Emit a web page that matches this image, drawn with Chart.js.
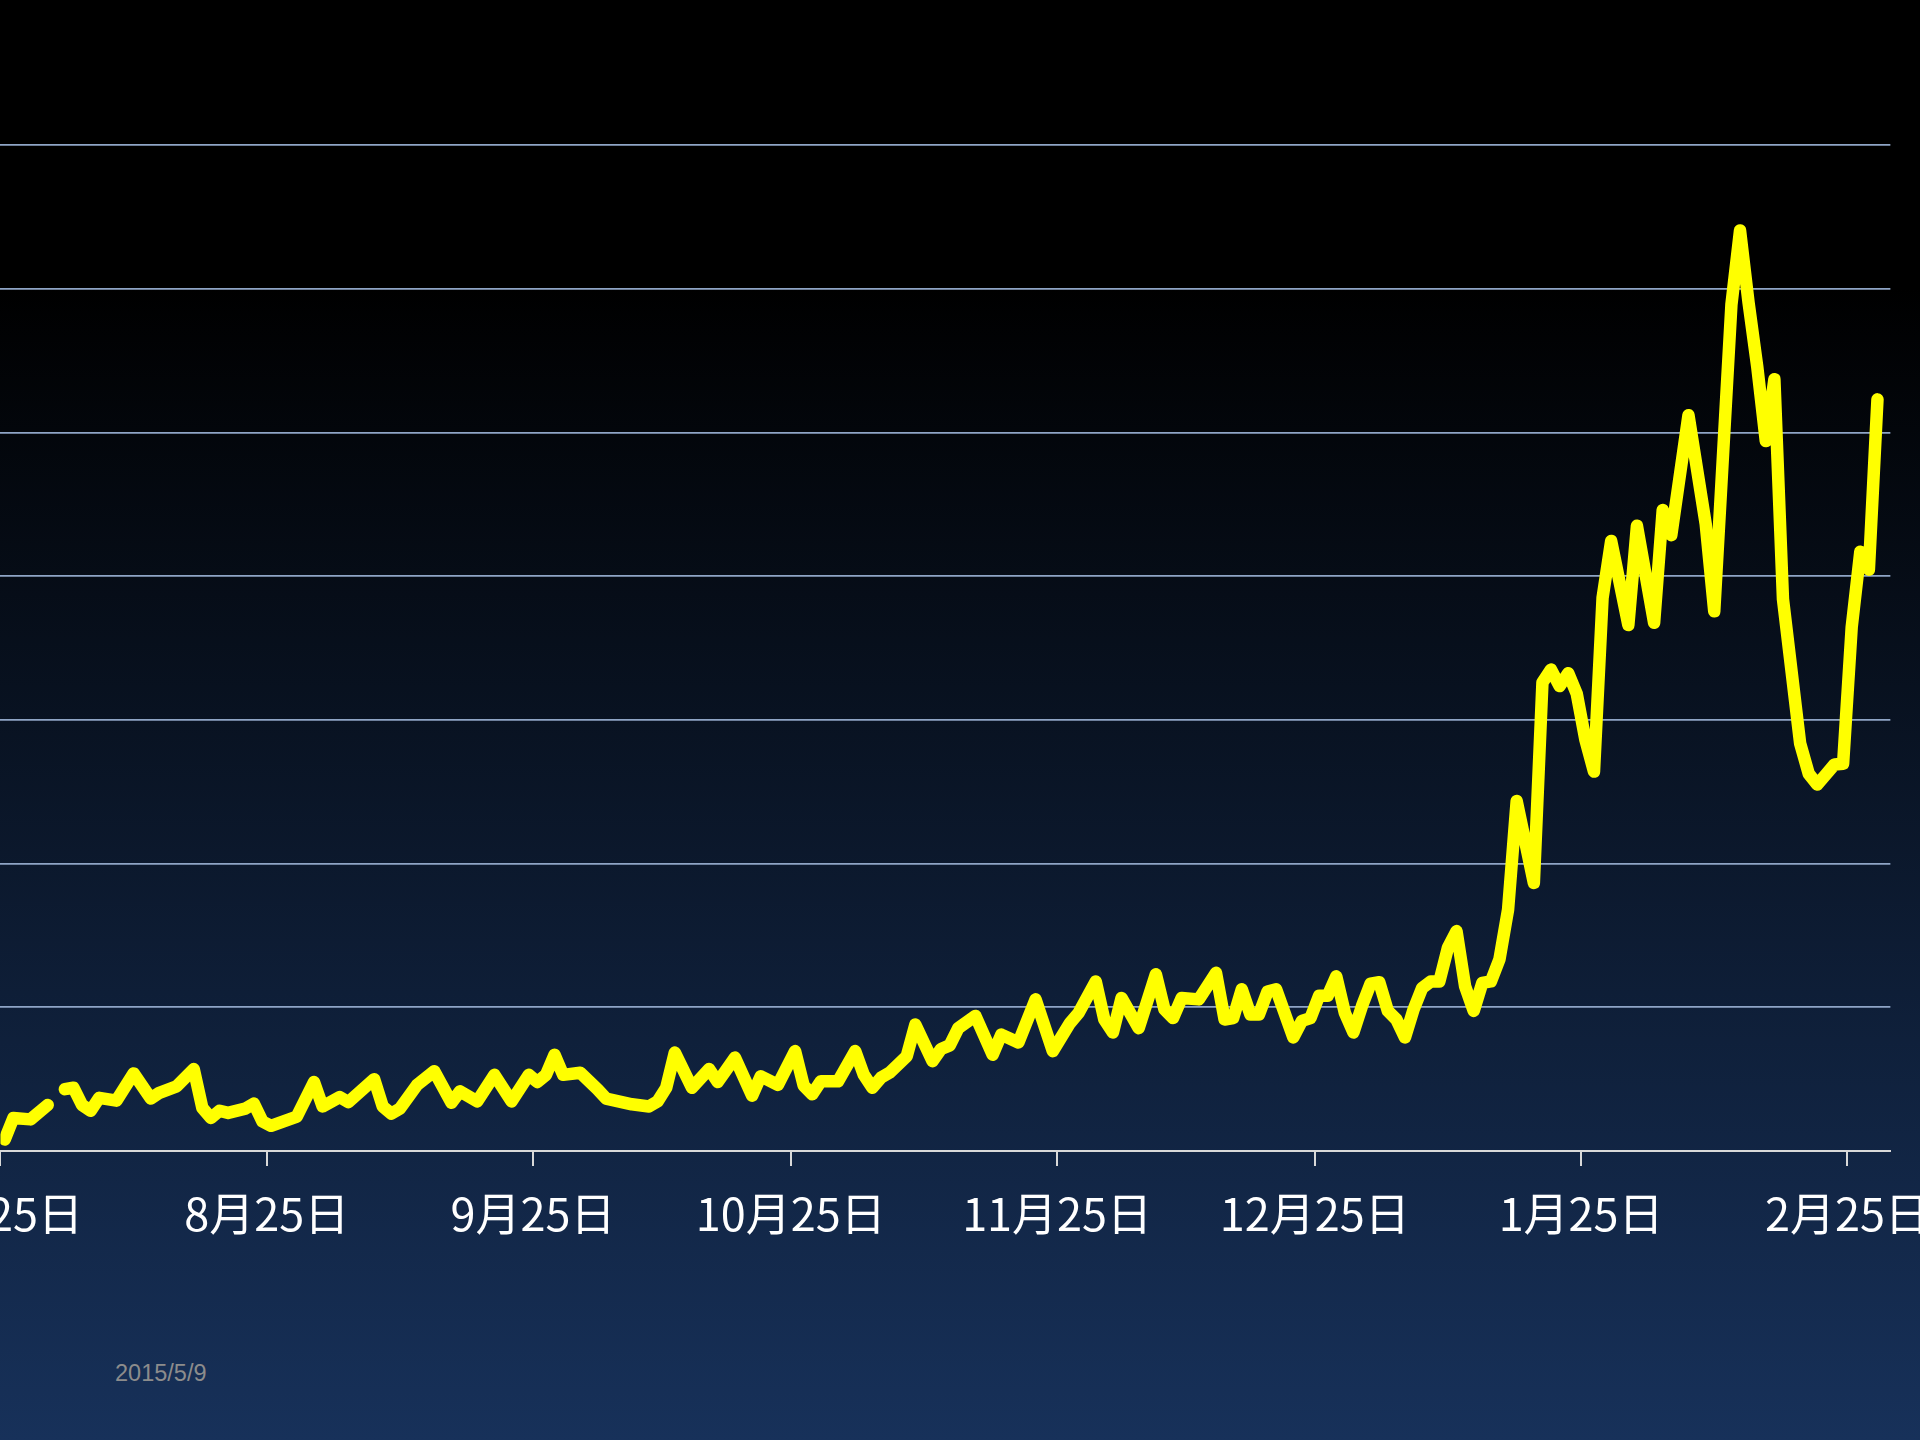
<!DOCTYPE html>
<html><head><meta charset="utf-8">
<script src="https://cdn.jsdelivr.net/npm/chart.js@4.4.1/dist/chart.umd.min.js"></script>
<style>
html,body{margin:0;padding:0;width:1920px;height:1440px;overflow:hidden;}
body{position:relative;background:linear-gradient(to bottom,#000000 0%,#000000 20%,#17315a 100%);}
#wrap{position:absolute;top:0;left:0;width:1920px;height:1440px;}
#foot{position:absolute;left:115px;top:1362px;font-family:"Liberation Sans",sans-serif;font-size:23.5px;line-height:23.5px;color:#8c8c8c;}
</style></head><body>
<div id="wrap"><canvas id="c"></canvas></div>
<div id="foot">2015/5/9</div>
<script>
const dates = [
'2014-07-25','2014-07-26','2014-07-28','2014-07-30','2014-07-31',
'2014-08-01','2014-08-02','2014-08-03','2014-08-04','2014-08-05','2014-08-07','2014-08-09','2014-08-11','2014-08-12','2014-08-14','2014-08-16','2014-08-17','2014-08-18','2014-08-19','2014-08-20','2014-08-22','2014-08-23','2014-08-24','2014-08-25','2014-08-28','2014-08-30','2014-08-31',
'2014-09-02','2014-09-03','2014-09-06','2014-09-07','2014-09-08','2014-09-09','2014-09-11','2014-09-13','2014-09-15','2014-09-16','2014-09-18','2014-09-20','2014-09-22','2014-09-24','2014-09-25','2014-09-26','2014-09-27','2014-09-28','2014-09-30',
'2014-10-02','2014-10-03','2014-10-06','2014-10-08','2014-10-09','2014-10-10','2014-10-11','2014-10-13','2014-10-15','2014-10-16','2014-10-18','2014-10-20','2014-10-21','2014-10-23','2014-10-25','2014-10-26','2014-10-27','2014-10-28','2014-10-30',
'2014-11-01','2014-11-02','2014-11-03','2014-11-04','2014-11-05','2014-11-07','2014-11-08','2014-11-10','2014-11-11','2014-11-12','2014-11-13','2014-11-15','2014-11-17','2014-11-18','2014-11-20','2014-11-22','2014-11-24','2014-11-26','2014-11-27','2014-11-29','2014-11-30',
'2014-12-01','2014-12-02','2014-12-04','2014-12-06','2014-12-07','2014-12-08','2014-12-09','2014-12-11','2014-12-13','2014-12-14','2014-12-15','2014-12-16','2014-12-17','2014-12-18','2014-12-19','2014-12-20','2014-12-22','2014-12-23','2014-12-24','2014-12-25','2014-12-26','2014-12-27','2014-12-28','2014-12-29','2014-12-30','2014-12-31',
'2015-01-01','2015-01-02','2015-01-03','2015-01-04','2015-01-05','2015-01-06','2015-01-07','2015-01-08','2015-01-09','2015-01-10','2015-01-11','2015-01-12','2015-01-13','2015-01-14','2015-01-15','2015-01-16','2015-01-17','2015-01-19','2015-01-20','2015-01-21','2015-01-22','2015-01-23','2015-01-24','2015-01-25','2015-01-26','2015-01-27','2015-01-28','2015-01-30','2015-01-31',
'2015-02-02','2015-02-03','2015-02-04','2015-02-06','2015-02-08','2015-02-09','2015-02-11','2015-02-12','2015-02-13','2015-02-14','2015-02-15','2015-02-16','2015-02-17','2015-02-19','2015-02-20','2015-02-21','2015-02-22','2015-02-23','2015-02-24','2015-02-25','2015-02-26','2015-02-27','2015-02-28'
];
const values = [
0.8, 2.3, 2.2, 3.2, null,
4.3, 4.4, 3.2, 2.8, 3.7, 3.5, 5.4, 3.65, 4.05, 4.5, 5.7, 3.0, 2.3, 2.8, 2.65, 2.95, 3.3, 2.05, 1.75, 2.4, 4.8, 3.1,
3.75, 3.4, 5.0, 3.1, 2.6, 2.95, 4.6, 5.55, 3.35, 4.15, 3.45, 5.3, 3.45, 5.3, 4.8, 5.3, 6.7, 5.3, 5.45,
4.3, 3.65, 3.25, 3.1, 3.45, 4.4, 6.85, 4.4, 5.7, 4.8, 6.5, 3.85, 5.2, 4.6, 6.95, 4.55, 3.95, 4.85, 4.85,
6.95, 5.3, 4.4, 5.1, 5.45, 6.6, 8.8, 6.25, 7.1, 7.35, 8.55, 9.4, 6.7, 8.1, 7.55, 10.55, 6.95, 8.9, 9.6, 11.8, 9.15,
8.25, 10.65, 8.55, 12.3, 9.85, 9.25, 10.65, 10.55, 12.4, 9.15, 9.25, 11.25, 9.5, 9.5, 11.1, 11.25, 7.9, 9.05, 9.25, 10.8, 10.8, 12.15, 9.6, 8.25, 10.1, 11.65,
11.75, 9.75, 9.15, 7.9, 9.85, 11.35, 11.8, 11.8, 14.15, 15.3, 11.45, 9.75, 11.7, 11.8, 13.35, 16.8, 24.35, 18.65, 32.6, 33.5, 32.35, 33.25, 31.8, 28.6, 26.4, 38.5, 42.45, 36.6, 43.5,
36.75, 44.6, 42.85, 51.2, 43.65, 37.55, 58.9, 64.05, 59.0, 54.6, 49.4, 53.7, 38.4, 28.35, 26.25, 25.5, 26.2, 26.9, 26.95, 36.45, 41.7, 40.45, 52.3
];
const tickDates = ['2014-07-25','2014-08-25','2014-09-25','2014-10-25','2014-11-25','2014-12-25','2015-01-25','2015-02-25'];
const tickLabels = ['7月25日','8月25日','9月25日','10月25日','11月25日','12月25日','1月25日','2月25日'];
const axisStart = '2014-07-25';
const axisEnd = '2015-03-02';
const yMin = 0, yMax = 70, yStep = 10;

const DAY = 86400000;
function dayNum(s){const p=s.split('-').map(Number);return Date.UTC(p[0],p[1]-1,p[2])/DAY;}
const t0 = dayNum(axisStart);
const off = s => dayNum(s) - t0;
const points = dates.map((s,i)=>({x:off(s)+0.5, y:values[i]}));
const tickPos = tickDates.map(off);

const wrap = document.getElementById('wrap');
const chart = new Chart(document.getElementById('c'), {
  type:'line',
  data:{datasets:[{
    data:points, borderColor:'#ffff00', backgroundColor:'#ffff00', borderWidth:12.5,
    pointRadius:0, pointHoverRadius:0, tension:0, spanGaps:false,
    borderCapStyle:'round', borderJoinStyle:'round', fill:false
  }]},
  options:{
    responsive:true, maintainAspectRatio:false, animation:false,
    layout:{padding:{top:145,bottom:0,left:0,right:0}},
    plugins:{legend:{display:false},tooltip:{enabled:false}},
    events:[],
    scales:{
      x:{type:'linear', min:0, max:off(axisEnd),
        afterBuildTicks:(s)=>{s.ticks=tickPos.map(v=>({value:v}));},
        ticks:{autoSkip:false, maxRotation:0, minRotation:0, color:'#ffffff',
          font:{family:'"Noto Sans CJK JP"', size:45}, padding:21,
          callback:(v,i)=>tickLabels[i]},
        grid:{drawOnChartArea:false, drawTicks:true, tickLength:15, color:'#d9d9d9', lineWidth:2},
        border:{display:true, color:'#d9d9d9', width:2}
      },
      y:{min:yMin, max:yMax,
        ticks:{display:false, stepSize:yStep},
        grid:{drawTicks:false, lineWidth:1.75, color:(c)=> c.tick && c.tick.value===0 ? 'rgba(0,0,0,0)' : '#8fa5c6'},
        border:{display:false}
      }
    }
  }
});

function fitLayout(){
  const a = chart.chartArea;
  const W = chart.width, H = chart.height;
  const padL = a.left, padR = W - a.right;
  const below = H - a.bottom;
  wrap.style.left = (-padL) + 'px';
  wrap.style.width = (1890 + padL + padR) + 'px';
  wrap.style.height = (1151 + below) + 'px';
  chart.resize();
  chart.update('none');
}
fitLayout();
fitLayout();
</script>
</body></html>
